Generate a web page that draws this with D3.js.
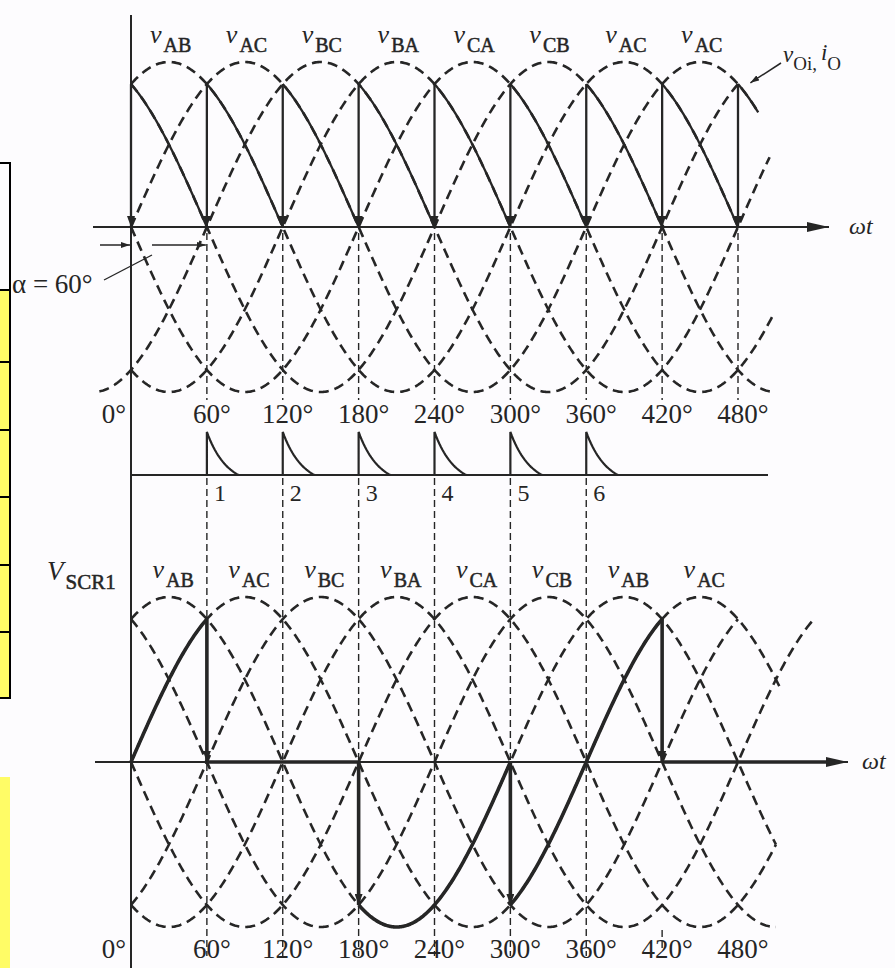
<!DOCTYPE html>
<html>
<head>
<meta charset="utf-8">
<script src="https://cdn.jsdelivr.net/npm/d3@7"></script>
<style>
  html, body { margin: 0; padding: 0; background: #fdfcfe; }
  svg { display: block; }
  text { font-family: "Liberation Serif", "Times New Roman", serif; fill: #252525; }
</style>
</head>
<body>
<svg id="chart" width="895" height="968"></svg>
<script>
// ---- data -------------------------------------------------------------
// angle ticks on both ωt axes (degrees)
const tickAngles = [0, 60, 120, 180, 240, 300, 360, 420, 480];
const tickLabels = ["0°", "60°", "120°", "180°", "240°", "300°", "360°", "420°", "480°"];

// the six line-to-line voltages: angle of each positive peak and the span drawn
const phasePeaks     = [30, 90, 150, 210, 270, 330];
const upperSpanStart = [0, 0, -25, 0, 0, 0];
const upperSpanEnd   = [480, 496, 480, 505, 509, 509];
const lowerSpanStart = [0, 0, 0, 0, 0, 0];
const lowerSpanEnd   = [510, 513, 480, 540, 510, 510];

// voltage names written over each 60° interval
const upperVoltageNames = ["AB", "AC", "BC", "BA", "CA", "CB", "AC", "AC"];
const lowerVoltageNames = ["AB", "AC", "BC", "BA", "CA", "CB", "AB", "AC"];
const upperLabelAngles  = [15, 75, 135, 195, 255, 315, 375, 435];
const lowerLabelAngles  = [17, 77, 137, 197, 257, 317, 377, 437];

// firing delay and gate pulses
const alphaDeg = 60;
const firingAngles = [60, 120, 180, 240, 300, 360];
const pulseNames = ["1", "2", "3", "4", "5", "6"];
const pulseWidthDeg = 25;

// output voltage v_O: each interval follows the line voltage peaking alpha-30° before its start
const outFrom = [0, 60, 120, 180, 240, 300, 360, 420, 480];
const outTo   = [60, 120, 180, 240, 300, 360, 420, 480, 496];

// SCR1 voltage: pieces (peak = null means the thyristor conducts, voltage 0)
const scrFrom = [0, 60, 180, 300, 420];
const scrTo   = [60, 180, 300, 420, 556];
const scrPeak = [90, null, 30, 90, null];

// ---- layout -----------------------------------------------------------
const svg = d3.select("#chart");
const ink = "#262626";
const x = d3.scaleLinear().domain([0, 480]).range([131, 738]);
const yTop = d3.scaleLinear().domain([-1, 1]).range([392, 62]);
const yBot = d3.scaleLinear().domain([-1, 1]).range([927, 597]);
const yPulse = d3.scaleLinear().domain([0, 1]).range([475, 432]);
const rad = d => d * Math.PI / 180;
const wave = (peak, th) => Math.cos(rad(th - peak));

function samples(a, b, step = 1) {
  const pts = d3.range(a, b, step);
  pts.push(b);
  return pts;
}

// left margin table strip
const tableRows = [163, 290, 362, 430, 497, 565, 632, 698];
const strip = svg.append("g");
tableRows.slice(0, -1).forEach((y0, i) => {
  strip.append("rect").attr("x", -2).attr("y", y0).attr("width", 12)
    .attr("height", tableRows[i + 1] - y0)
    .attr("fill", i === 0 ? "#fdfcfe" : "#fffc66")
    .attr("stroke", "#000").attr("stroke-width", 2);
});
strip.append("rect").attr("x", 0).attr("y", 777).attr("width", 10).attr("height", 191)
  .attr("fill", "#fffc66");

// markers
const defs = svg.append("defs");
function marker(id, len, wid) {
  defs.append("marker").attr("id", id)
    .attr("markerUnits", "userSpaceOnUse")
    .attr("viewBox", `0 0 ${len} ${wid}`)
    .attr("refX", len).attr("refY", wid / 2)
    .attr("markerWidth", len).attr("markerHeight", wid)
    .attr("orient", "auto")
    .append("path").attr("d", `M0,0 L${len},${wid / 2} L0,${wid} Z`).attr("fill", ink);
}
marker("head", 11, 8);
marker("axisHead", 22, 10);
marker("thinHead", 9, 6);

// ---- dashed projection lines ----------------------------------------
const grid = svg.append("g").attr("stroke", ink).attr("stroke-width", 1.4)
  .attr("stroke-dasharray", "7,4");
tickAngles.filter(a => a > 0).forEach(a => {
  grid.append("line").attr("x1", x(a)).attr("x2", x(a))
    .attr("y1", yTop(0) + 6).attr("y2", 400);
});
firingAngles.forEach(a => {
  grid.append("line").attr("x1", x(a)).attr("x2", x(a))
    .attr("y1", 478).attr("y2", 956);
});
grid.append("line").attr("x1", x(420)).attr("x2", x(420)).attr("y1", 930).attr("y2", 952);

// ---- dashed sinusoids -----------------------------------------------
function drawWaves(yS, starts, ends) {
  const line = d3.line().x(d => x(d[0])).y(d => yS(d[1]));
  phasePeaks.forEach((p, i) => {
    const pts = samples(starts[i], ends[i]).map(t => [t, wave(p, t)]);
    svg.append("path").attr("d", line(pts)).attr("fill", "none")
      .attr("stroke", ink).attr("stroke-width", 2.6).attr("stroke-dasharray", "10,6");
  });
}
drawWaves(yTop, upperSpanStart, upperSpanEnd);
drawWaves(yBot, lowerSpanStart, lowerSpanEnd);

// ---- axes -------------------------------------------------------------
svg.append("line").attr("x1", x(0)).attr("x2", x(0)).attr("y1", 15).attr("y2", 968)
  .attr("stroke", ink).attr("stroke-width", 2);
svg.append("line").attr("x1", 93).attr("x2", 829).attr("y1", yTop(0)).attr("y2", yTop(0))
  .attr("stroke", ink).attr("stroke-width", 2).attr("marker-end", "url(#axisHead)");
svg.append("line").attr("x1", 95).attr("x2", 848).attr("y1", yBot(0)).attr("y2", yBot(0))
  .attr("stroke", ink).attr("stroke-width", 2).attr("marker-end", "url(#axisHead)");
svg.append("text").attr("x", 849).attr("y", yTop(0) + 7).attr("font-size", 24)
  .attr("font-style", "italic").text("ωt");
svg.append("text").attr("x", 862).attr("y", yBot(0) + 7).attr("font-size", 24)
  .attr("font-style", "italic").text("ωt");

// ---- output voltage v_O (upper) -----------------------------------------
const lineTop = d3.line().x(d => x(d[0])).y(d => yTop(d[1]));
const outPeak = outFrom.map(a => a - alphaDeg + 30);
outFrom.forEach((a, i) => {
  const pts = samples(a, outTo[i]).map(t => [t, wave(outPeak[i], t)]);
  svg.append("path").attr("d", lineTop(pts)).attr("fill", "none")
    .attr("stroke", ink).attr("stroke-width", 2.3);
});
// commutation steps: from the new interval's start value down to the end of the old one
outFrom.forEach((a, i) => {
  const hi = wave(outPeak[i], a);
  const lo = i > 0 ? wave(outPeak[i - 1], a) : 0;
  svg.append("line").attr("x1", x(a)).attr("x2", x(a))
    .attr("y1", yTop(hi)).attr("y2", yTop(lo))
    .attr("stroke", ink).attr("stroke-width", 2.3).attr("marker-end", "url(#head)");
});

// ---- SCR1 voltage (lower) -------------------------------------------------
const lineBot = d3.line().x(d => x(d[0])).y(d => yBot(d[1]));
const scrValue = (i, t) => scrPeak[i] === null ? 0 : wave(scrPeak[i], t);
scrFrom.forEach((a, i) => {
  const pts = samples(a, scrTo[i]).map(t => [t, scrValue(i, t)]);
  svg.append("path").attr("d", lineBot(pts)).attr("fill", "none")
    .attr("stroke", ink).attr("stroke-width", 3.6).attr("stroke-linejoin", "round");
});
scrFrom.slice(1).forEach((a, k) => {
  const left = scrValue(k, a), right = scrValue(k + 1, a);
  svg.append("line").attr("x1", x(a)).attr("x2", x(a))
    .attr("y1", yBot(Math.max(left, right))).attr("y2", yBot(Math.min(left, right)))
    .attr("stroke", ink).attr("stroke-width", 3.6).attr("marker-end", "url(#head)");
});

// ---- gate pulses ----------------------------------------------------------
svg.append("line").attr("x1", x(0)).attr("x2", 768).attr("y1", yPulse(0)).attr("y2", yPulse(0))
  .attr("stroke", ink).attr("stroke-width", 2);
const pulseLine = d3.line().x(d => x(d[0])).y(d => yPulse(d[1]));
firingAngles.forEach((a, i) => {
  const decay = samples(0, 1, 0.05).map(u => [a + u * pulseWidthDeg,
    (Math.exp(-1.6 * u) - Math.exp(-1.6)) / (1 - Math.exp(-1.6))]);
  svg.append("path").attr("d", pulseLine([[a, 0], ...decay])).attr("fill", "none")
    .attr("stroke", ink).attr("stroke-width", 2.2);
  svg.append("text").attr("x", x(a) + 7).attr("y", 501).attr("font-size", 24).text(pulseNames[i]);
});

// ---- tick labels ----------------------------------------------------------
[423, 958].forEach(base => {
  tickAngles.forEach((a, i) => {
    svg.append("text")
      .attr("x", a === 0 ? x(a) - 5 : x(a) + 5)
      .attr("y", base)
      .attr("text-anchor", a === 0 ? "end" : "middle")
      .attr("font-size", 27).text(tickLabels[i]);
  });
});

// ---- voltage names --------------------------------------------------------
function subLabel(px, py, main, sub, mainSize, subSize, italic = true) {
  const t = svg.append("text").attr("x", px).attr("y", py);
  t.append("tspan").attr("font-size", mainSize).attr("font-style", italic ? "italic" : null).text(main);
  t.append("tspan").attr("font-size", subSize).attr("dx", 2).attr("dy", 9)
    .attr("stroke", ink).attr("stroke-width", 0.5).text(sub);
  return t;
}
upperVoltageNames.forEach((n, i) => subLabel(x(upperLabelAngles[i]), 43, "v", n, 26, 20));
lowerVoltageNames.forEach((n, i) => subLabel(x(lowerLabelAngles[i]), 578, "v", n, 26, 20));
subLabel(47, 580, "V", "SCR1", 27, 21);

// v_O, i_O pointer
const tipT = 489, tip = [x(tipT) + 1, yTop(wave(outPeak[8], tipT)) - 16];
svg.append("line").attr("x1", 781).attr("y1", 63).attr("x2", tip[0]).attr("y2", tip[1])
  .attr("stroke", ink).attr("stroke-width", 1.5).attr("marker-end", "url(#thinHead)");
const vo = svg.append("text").attr("x", 783).attr("y", 62);
vo.append("tspan").attr("font-size", 23).attr("font-style", "italic").text("v");
vo.append("tspan").attr("font-size", 19).attr("dy", 8).text("Oi,");
vo.append("tspan").attr("font-size", 23).attr("font-style", "italic").attr("dx", 4).attr("dy", -10).text("i");
vo.append("tspan").attr("font-size", 19).attr("dy", 10).text("O");

// firing delay annotation
const ay = 245;
svg.append("line").attr("x1", 100).attr("x2", x(0) - 1).attr("y1", ay).attr("y2", ay)
  .attr("stroke", ink).attr("stroke-width", 1.5).attr("marker-end", "url(#thinHead)");
svg.append("line").attr("x1", 152).attr("x2", x(alphaDeg) - 1).attr("y1", ay).attr("y2", ay)
  .attr("stroke", ink).attr("stroke-width", 1.5).attr("marker-end", "url(#thinHead)");
svg.append("line").attr("x1", 104).attr("y1", 280).attr("x2", 152).attr("y2", 255)
  .attr("stroke", ink).attr("stroke-width", 1.4);
svg.append("text").attr("x", 12).attr("y", 293).attr("font-size", 27).text(`α = ${alphaDeg}°`);
</script>
</body>
</html>
